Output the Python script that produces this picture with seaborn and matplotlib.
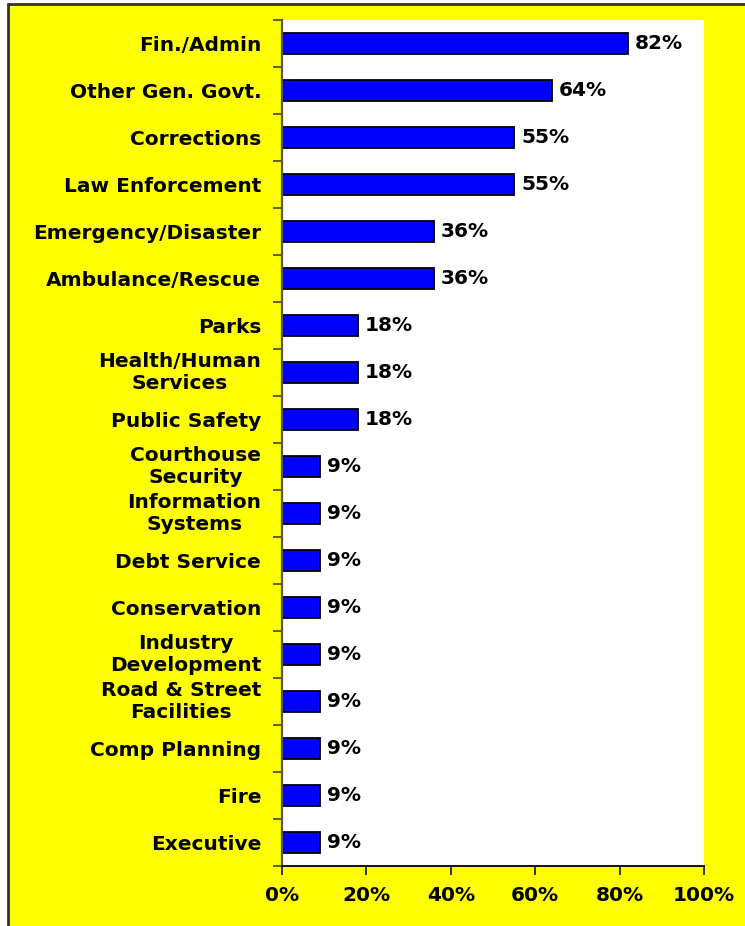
import matplotlib
matplotlib.use("Agg")
import matplotlib.pyplot as plt
from matplotlib.patches import Rectangle
from matplotlib.lines import Line2D
from matplotlib.ticker import FixedLocator, FuncFormatter
import pandas as pd
import seaborn as sns

# Share of respondents naming each county function
categories = [
    "Fin./Admin",
    "Other Gen. Govt.",
    "Corrections",
    "Law Enforcement",
    "Emergency/Disaster",
    "Ambulance/Rescue",
    "Parks",
    "Health/Human\nServices",
    "Public Safety",
    "Courthouse\nSecurity",
    "Information\nSystems",
    "Debt Service",
    "Conservation",
    "Industry\nDevelopment",
    "Road & Street\nFacilities",
    "Comp Planning",
    "Fire",
    "Executive",
]
percentages = [82, 64, 55, 55, 36, 36, 18, 18, 18, 9, 9, 9, 9, 9, 9, 9, 9, 9]
x_ticks = [0, 20, 40, 60, 80, 100]

df = pd.DataFrame({"category": categories, "pct": percentages})

sns.set_theme(style="white")
plt.rcParams["font.family"] = ["DejaVu Sans"]
plt.rcParams["font.weight"] = "bold"

W, H = 745, 926
fig = plt.figure(figsize=(W / 100, H / 100), dpi=100, facecolor="white")

# yellow backdrop, framed by a dark rule on its left and top edges
x0, y0 = 8 / W, 1 - 4 / H
fig.patches.append(
    Rectangle((x0, -0.01), 1.1, y0 + 0.01, transform=fig.transFigure,
              facecolor="#FFFF00", edgecolor="none", zorder=-10, figure=fig)
)
for xs, ys in (([x0, x0], [-0.01, y0]), ([x0, 1.05], [y0, y0])):
    fig.lines.append(Line2D(xs, ys, transform=fig.transFigure, color="#333333",
                            linewidth=2.0, zorder=-9, figure=fig))

left, right, top, bottom = 282, 704, 20, 866
ax = fig.add_axes([left / W, 1 - bottom / H, (right - left) / W, (bottom - top) / H])
ax.set_zorder(5)
ax.set_facecolor("white")

sns.barplot(data=df, x="pct", y="category", orient="h", color="#0000FF",
            saturation=1, width=0.46, edgecolor="black", linewidth=1.3, ax=ax)

ax.set_xlim(0, 100)
ax.set_ylim(len(categories) - 0.5, -0.5)
ax.set_xlabel("")
ax.set_ylabel("")

fs = 14.5
ax.bar_label(ax.containers[0], labels=[f"{v}%" for v in percentages],
             padding=5, fontsize=fs, fontweight="bold", color="black")

# x axis
ax.xaxis.set_major_locator(FixedLocator(x_ticks))
ax.xaxis.set_major_formatter(FuncFormatter(lambda v, _: f"{v:.0f}%"))
ax.tick_params(axis="x", which="major", direction="out", length=6.5, width=1.1,
               color="black", pad=8, labelsize=fs, bottom=True)

# y axis: labels at bar centres, tick marks at the category boundaries
ax.set_yticks(range(len(categories)))
ax.set_yticklabels(categories, fontsize=fs, fontweight="bold",
                   multialignment="center", linespacing=1.22)
ax.tick_params(axis="y", which="major", length=0, pad=15)
ax.set_yticks([i - 0.5 for i in range(len(categories) + 1)], minor=True)
ax.tick_params(axis="y", which="minor", direction="out", length=6.5, width=1.1,
               color="#333333", left=True)

for lab in ax.get_xticklabels() + ax.get_yticklabels():
    lab.set_fontweight("bold")
    lab.set_color("black")
for lab in ax.get_yticklabels():
    if "\n" in lab.get_text():
        lab.set_verticalalignment("center")

for side in ("top", "right"):
    ax.spines[side].set_visible(False)
ax.spines["left"].set_color("#555555")
ax.spines["left"].set_linewidth(1.6)
ax.spines["bottom"].set_color("black")
ax.spines["bottom"].set_linewidth(1.3)

fig.savefig("out.png", dpi=100, facecolor=fig.get_facecolor())
